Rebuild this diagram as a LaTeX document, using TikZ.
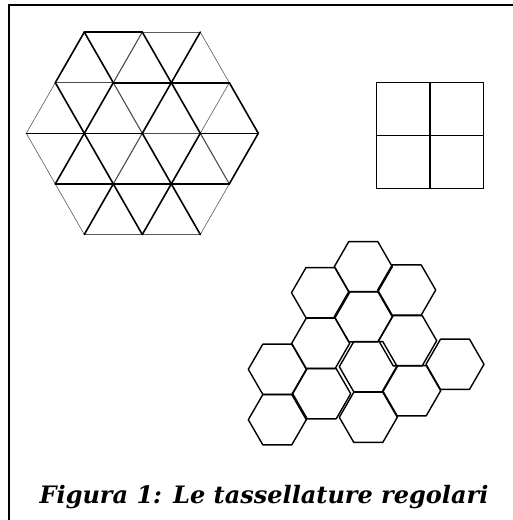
\documentclass[tikz,border=0pt]{standalone}
\usepackage{fontspec}
\newfontfamily\capfont{DejaVu Serif}
\usepackage{tikz}

\begin{document}
\begin{tikzpicture}[x=1pt,y=-1pt,
  fat/.style={line width=1.6pt,line cap=round},
  mid/.style={line width=1.1pt,black!70,line cap=round},
  fine/.style={line width=0.6pt,black!65,line cap=round},
  cell/.style={line width=1.4pt,line join=round}]
  \useasboundingbox (0,0) rectangle (512,520);
  % frame
  \draw[line width=2.3pt] (9,5.2) rectangle (530,540);
  % triangles: lattice points p<row><col>
  \foreach \r in {0,...,4}
    \foreach \k in {0,...,8}
      \coordinate (p\r\k) at ({142.3+(\k-4)*29},{133.3+(\r-2)*50.6});
  \foreach \a/\b in {p04/p06,p42/p44,p44/p46,p20/p11,p26/p17,p46/p37,p06/p17,p20/p31,p31/p42}
    \draw[fine] (\a) -- (\b);
  \foreach \a/\b in {p11/p13,p24/p26,p13/p04,p33/p24,p13/p24,p26/p37}
    \draw[mid] (\a) -- (\b);
  \foreach \a/\b in {p02/p04,p13/p15,p15/p17,p20/p22,p22/p24,p26/p28,p31/p33,p33/p35,p35/p37,
                     p11/p02,p15/p06,p22/p13,p24/p15,p31/p22,p35/p26,p37/p28,p42/p33,p44/p35,
                     p02/p13,p04/p15,p11/p22,p15/p26,p17/p28,p22/p33,p24/p35,p33/p44,p35/p46}
    \draw[fat] (\a) -- (\b);
  % squares
  \draw[cell] (376.7,82.3) rectangle (483.3,188.3);
  \draw[cell] (430,82.3) -- (430,188.3);
  \draw[cell] (376.7,135.5) -- (483.3,135.5);
  % hexagons
  \foreach \x/\y in {363.3/266.7,320.5/292.7,406.7/290,363.3/316.7,320.7/343.3,407.7/340.7,455/364.3,
                     368.3/366.7,277.3/369.3,321.7/393.7,411.7/390.7,277.3/419.7,368.3/417.3}
    \draw[cell] (\x,\y) ++(0:29) -- ++(120:29) -- ++(180:29) -- ++(240:29) -- ++(300:29) -- ++(0:29) -- cycle;
  % caption
  \node[anchor=base,inner sep=0pt] (caption) at (264,503)
    {\capfont\fontsize{24}{28}\selectfont\bfseries\itshape Figura 1: Le tassellature regolari};
\end{tikzpicture}
\end{document}
